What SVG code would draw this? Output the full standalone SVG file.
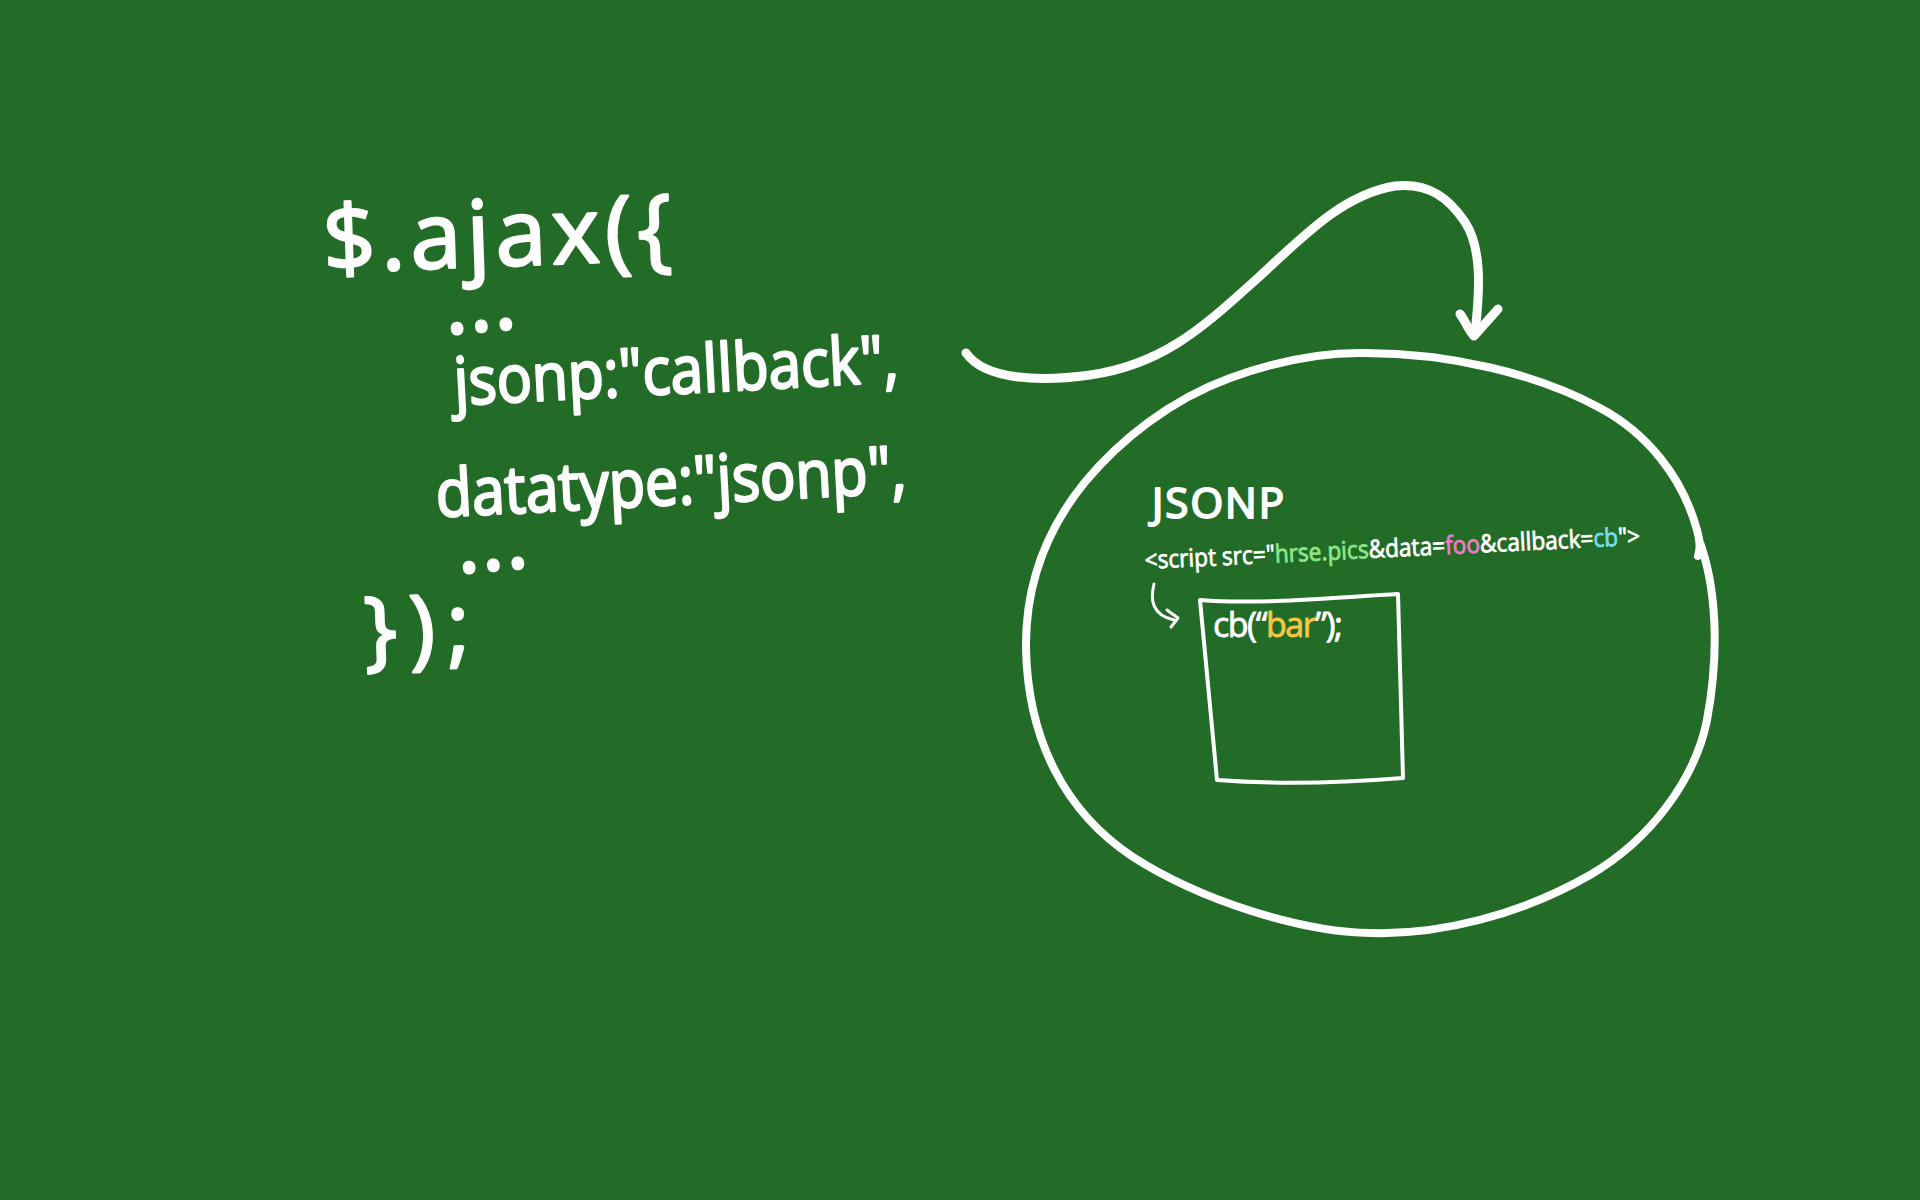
<svg xmlns="http://www.w3.org/2000/svg" width="1920" height="1200" viewBox="0 0 1920 1200">
<style>
.code{font-family:"Open Sans","Liberation Sans",sans-serif;fill:#fff;stroke:#fff;stroke-width:2.5;stroke-linejoin:round}
.small{font-family:"Open Sans","Liberation Sans",sans-serif;fill:#fff;stroke-width:0.8;stroke-linejoin:round}
.title{font-family:"Open Sans","Liberation Sans",sans-serif;fill:#fff;stroke:#fff;stroke-width:2;stroke-linejoin:round}
.line{fill:none;stroke:#fff;stroke-linecap:round;stroke-linejoin:round}
.g{fill:#8ee68a;stroke:#8ee68a}
.p{fill:#f27ac8;stroke:#f27ac8}
.c{fill:#78dcea;stroke:#78dcea}
.y{fill:#f5c842;stroke:#f5c842}
.w{fill:#fff;stroke:#fff}
</style>
<rect width="1920" height="1200" fill="#236c28"/>

<g id="ajax-code">
  <text class="code" transform="translate(324,272) rotate(-2)" font-size="92" textLength="349" lengthAdjust="spacing">$.ajax({</text>
  <text class="code" transform="translate(446,334) rotate(-5)" font-size="88" textLength="72" lengthAdjust="spacing">...</text>
  <text class="code" transform="translate(455,405) rotate(-3)" font-size="66" textLength="445" lengthAdjust="spacingAndGlyphs">jsonp:"callback",</text>
  <text class="code" transform="translate(437,517) rotate(-3)" font-size="66" textLength="471" lengthAdjust="spacingAndGlyphs">datatype:"jsonp",</text>
  <text class="code" transform="translate(458,573) rotate(-5)" font-size="88" textLength="72" lengthAdjust="spacing">...</text>
  <text class="code" transform="translate(365,660) rotate(-2)" font-size="88" textLength="106" lengthAdjust="spacing">});</text>
</g>

<g id="jsonp-bubble">
  <path class="line" stroke-width="8" d="M1699 540 C1716 585,1720 650,1707 720 C1695 780,1650 840,1590 875 C1520 915,1440 935,1371 933 C1300 932,1200 900,1133 857 C1065 812,1028 740,1026 649 C1025 580,1050 525,1085 482 C1120 440,1170 400,1230 378 C1280 360,1320 353,1359 353 C1450 352,1540 375,1600 408 C1645 432,1682 475,1697 530 C1700 540,1700 550,1698 556"/>
  <text class="title" x="1152" y="518" font-size="42" textLength="132" lengthAdjust="spacing">JSONP</text>
  <text class="small" transform="translate(1145,569) rotate(-2.8)" font-size="25" textLength="496" lengthAdjust="spacingAndGlyphs"><tspan class="w">&lt;script src="</tspan><tspan class="g">hrse.pics</tspan><tspan class="w">&amp;data=</tspan><tspan class="p">foo</tspan><tspan class="w">&amp;callback=</tspan><tspan class="c">cb</tspan><tspan class="w">"&gt;</tspan></text>
</g>

<g id="script-box">
  <path class="line" stroke-width="4" d="M1200 600 C1260 605,1340 597,1398 594 L1403 778 C1340 783,1270 784,1217 780 Z"/>
  <text class="small" x="1213" y="637" font-size="34" textLength="130" lengthAdjust="spacing"><tspan class="w">cb(“</tspan><tspan class="y">bar</tspan><tspan class="w">”);</tspan></text>
</g>

<g id="connectors">
  <path class="line" stroke-width="9" d="M966 353 C985 380,1040 382,1090 375 C1160 365,1200 330,1250 285 C1300 240,1340 195,1395 186 C1430 182,1450 200,1465 222 C1482 248,1480 290,1475 333"/>
  <path class="line" stroke-width="9" d="M1460 314 C1465 320,1468 330,1474 336 L1498 309"/>
  <path class="line" stroke-width="3" d="M1154 584 C1150 600,1152 615,1174 620"/>
  <path class="line" stroke-width="3" d="M1167 610 L1178 618 L1171 627"/>
</g>
</svg>
